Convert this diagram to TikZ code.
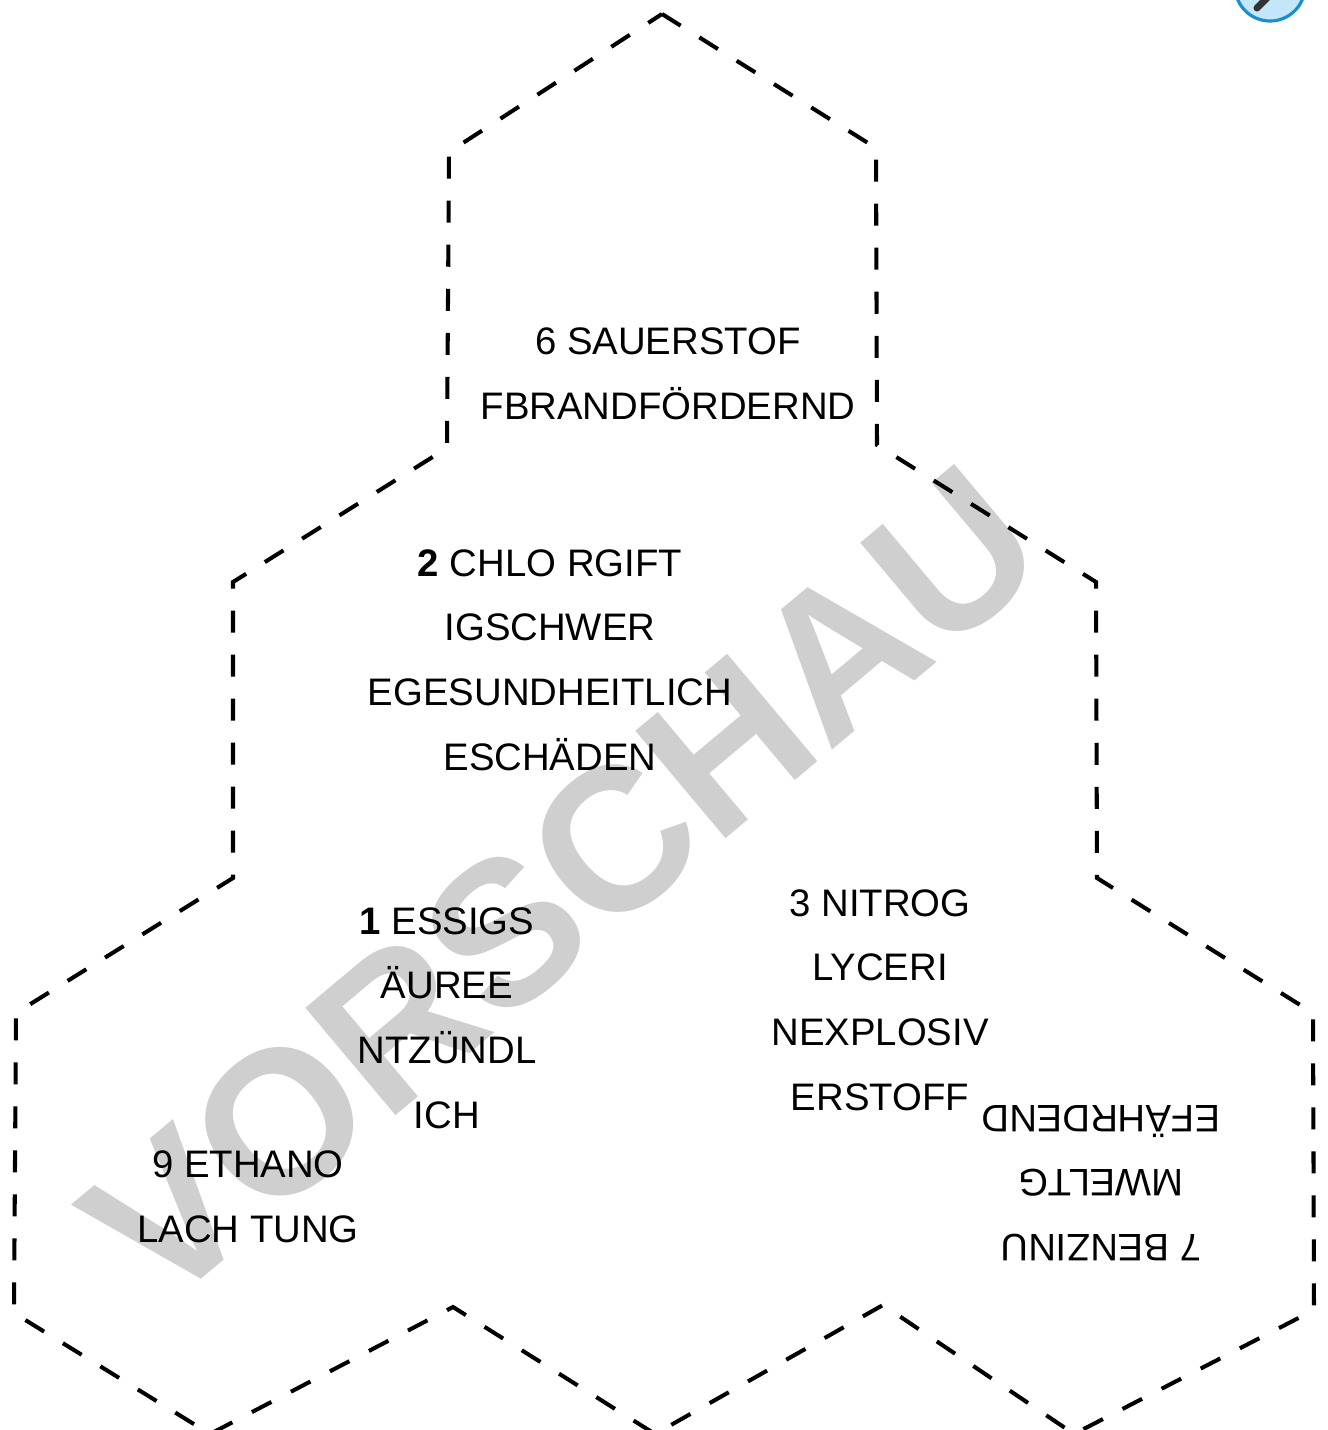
\documentclass[tikz,border=0pt]{standalone}
\usepackage{fontspec}
\setmainfont{Liberation Sans}
\definecolor{wmgray}{RGB}{207,207,207}
\definecolor{iconblue}{RGB}{197,230,248}
\definecolor{iconrim}{RGB}{26,143,208}
\begin{document}
\begin{tikzpicture}[x=0.01cm,y=-0.01cm,
        cut/.style={line width=1.15pt,dash pattern=on 0.22cm off 0.22cm},
        word/.style={align=center,font=\fontsize{10.9}{18.4}\selectfont,inner sep=0pt},
        stamp/.style={text=wmgray,font=\fontsize{58}{58}\selectfont\bfseries,rotate=40}]
        \useasboundingbox (0,0) rectangle (1328,1430);
        % watermark behind everything
        \node[stamp] (vorschau) at (562,885) {VORSCHAU};
        \draw[iconrim,fill=iconblue,line width=0.9pt] (1270,-14) circle [radius=0.35cm];
        \draw[line width=2pt,black!80,line cap=round] (1257,8) -- (1267,-2);
        % outline of the hexagons
        \draw[cut] (662,14)--(876,148)--(877,445)--(1096,582)--(1097,878)--(1313,1013)--(1314,1310)
            --(1074,1434)--(883,1305)--(655,1434)--(453,1307)--(210,1434)--(14,1313)--(16,1013)
            --(233,878)--(233,582)--(447,448)--(449,152)--cycle;
        \node[word] (sauer) at (668,374) {6 SAUERSTOF\\FBRANDFÖRDERND};
        \node[word] (chlor) at (550,660) {\textbf{2} CHLO RGIFT\\IGSCHWER\\EGESUNDHEITLICH\\ESCHÄDEN};
        \node[word] (essig) at (447,1018) {\textbf{1} ESSIGS\\ÄUREE\\NTZÜNDL\\ICH};
        \node[word] (nitro) at (880,1000) {3 NITROG\\LYCERI\\NEXPLOSIV\\ERSTOFF};
        \node[word] (ethan) at (248,1197) {9 ETHANO\\LACH TUNG};
        \node[word,rotate=180] (benzin) at (1101,1183) {7 BENZINU\\MWELTG\\EFÄHRDEND};
    \end{tikzpicture}
\end{document}
